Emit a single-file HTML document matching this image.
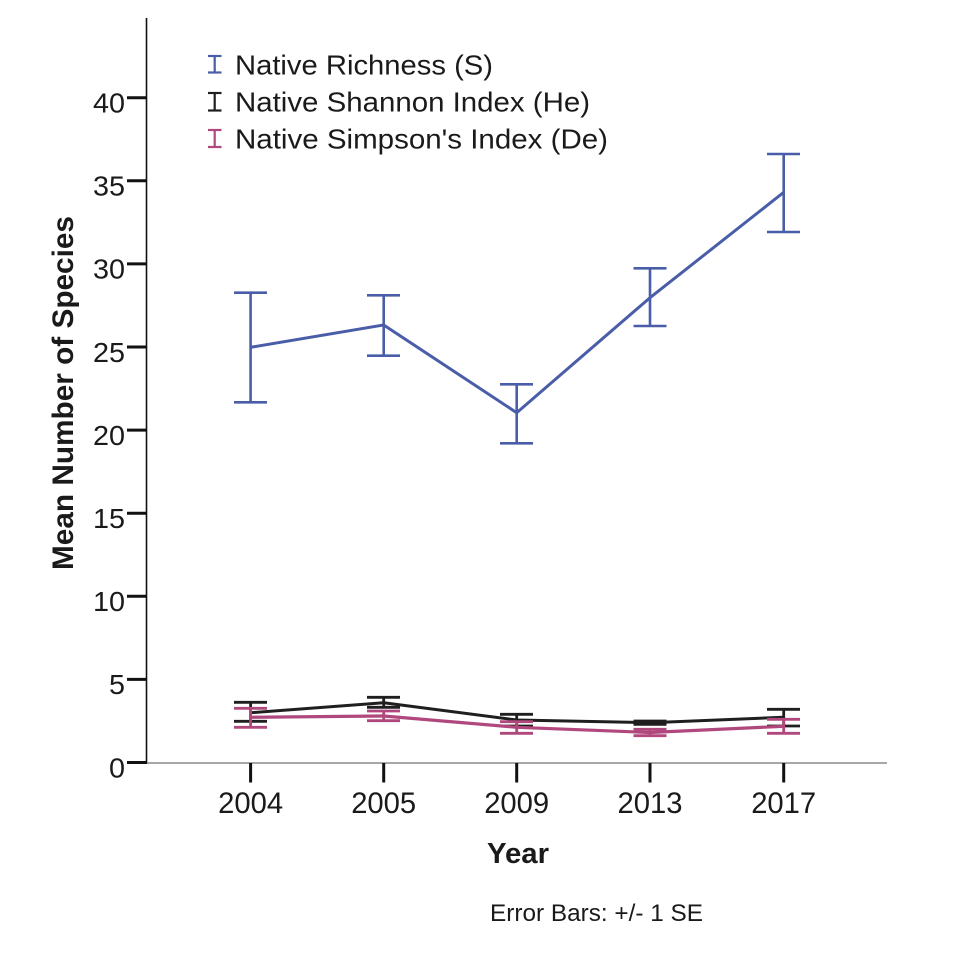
<!DOCTYPE html>
<html>
<head>
<meta charset="utf-8">
<style>
  html, body { margin:0; padding:0; background:#ffffff; }
  svg { display:block; }
  text { font-family: "Liberation Sans", Arial, sans-serif; fill:#1a1a1a; }
</style>
</head>
<body>
<svg width="960" height="956" viewBox="0 0 960 956" xmlns="http://www.w3.org/2000/svg">
  <rect x="0" y="0" width="960" height="956" fill="#ffffff"/>

  <!-- Axes -->
  <line x1="146.5" y1="18" x2="146.5" y2="763" stroke="#111" stroke-width="1.6"/>
  <line x1="146" y1="763" x2="887" y2="763" stroke="#8a8a8a" stroke-width="1.6"/>

  <!-- Y ticks -->
  <g stroke="#111" stroke-width="3">
    <line x1="127" y1="762.5" x2="147" y2="762.5"/>
    <line x1="127" y1="679.4" x2="147" y2="679.4"/>
    <line x1="127" y1="596.3" x2="147" y2="596.3"/>
    <line x1="127" y1="513.2" x2="147" y2="513.2"/>
    <line x1="127" y1="430.1" x2="147" y2="430.1"/>
    <line x1="127" y1="347.0" x2="147" y2="347.0"/>
    <line x1="127" y1="263.9" x2="147" y2="263.9"/>
    <line x1="127" y1="180.8" x2="147" y2="180.8"/>
    <line x1="127" y1="97.7" x2="147" y2="97.7"/>
  </g>
  <g font-size="27.5" text-anchor="end">
    <text x="125" y="777.5" textLength="16" lengthAdjust="spacingAndGlyphs">0</text>
    <text x="125" y="694.2" textLength="16" lengthAdjust="spacingAndGlyphs">5</text>
    <text x="125" y="611.1" textLength="32" lengthAdjust="spacingAndGlyphs">10</text>
    <text x="125" y="528.0" textLength="32" lengthAdjust="spacingAndGlyphs">15</text>
    <text x="125" y="444.9" textLength="32" lengthAdjust="spacingAndGlyphs">20</text>
    <text x="125" y="361.8" textLength="32" lengthAdjust="spacingAndGlyphs">25</text>
    <text x="125" y="278.7" textLength="32" lengthAdjust="spacingAndGlyphs">30</text>
    <text x="125" y="195.6" textLength="32" lengthAdjust="spacingAndGlyphs">35</text>
    <text x="125" y="112.5" textLength="32" lengthAdjust="spacingAndGlyphs">40</text>
  </g>

  <!-- X ticks -->
  <g stroke="#111" stroke-width="3">
    <line x1="250.6" y1="763" x2="250.6" y2="782.5"/>
    <line x1="383.7" y1="763" x2="383.7" y2="782.5"/>
    <line x1="516.7" y1="763" x2="516.7" y2="782.5"/>
    <line x1="650" y1="763" x2="650" y2="782.5"/>
    <line x1="783.7" y1="763" x2="783.7" y2="782.5"/>
  </g>
  <g font-size="29.5">
    <text x="218.1" y="813" textLength="65" lengthAdjust="spacingAndGlyphs">2004</text>
    <text x="351.2" y="813" textLength="65" lengthAdjust="spacingAndGlyphs">2005</text>
    <text x="484.2" y="813" textLength="65" lengthAdjust="spacingAndGlyphs">2009</text>
    <text x="617.5" y="813" textLength="65" lengthAdjust="spacingAndGlyphs">2013</text>
    <text x="751.2" y="813" textLength="65" lengthAdjust="spacingAndGlyphs">2017</text>
  </g>

  <!-- Axis titles -->
  <text x="487" y="863" font-size="28.5" font-weight="bold" textLength="62" lengthAdjust="spacingAndGlyphs">Year</text>
  <text transform="translate(73,570) rotate(-90)" x="0" y="0" font-size="29.5" font-weight="bold" textLength="354" lengthAdjust="spacingAndGlyphs">Mean Number of Species</text>
  <text x="490" y="921" font-size="24.5" textLength="213" lengthAdjust="spacingAndGlyphs">Error Bars: +/- 1 SE</text>

  <!-- Legend -->
  <g stroke-width="2.2" fill="none">
    <g stroke="#4a5da8">
      <line x1="214.7" y1="56" x2="214.7" y2="72.5"/>
      <line x1="208" y1="56" x2="221.5" y2="56"/>
      <line x1="208" y1="72.5" x2="221.5" y2="72.5"/>
    </g>
    <g stroke="#1f1f1f">
      <line x1="214.7" y1="93" x2="214.7" y2="110.5"/>
      <line x1="208" y1="93" x2="221.5" y2="93"/>
      <line x1="208" y1="110.5" x2="221.5" y2="110.5"/>
    </g>
    <g stroke="#b0487d">
      <line x1="214.7" y1="130" x2="214.7" y2="147"/>
      <line x1="208" y1="130" x2="221.5" y2="130"/>
      <line x1="208" y1="147" x2="221.5" y2="147"/>
    </g>
  </g>
  <g font-size="27.5">
    <text x="235" y="74.3" textLength="258" lengthAdjust="spacingAndGlyphs">Native Richness (S)</text>
    <text x="235" y="111.5" textLength="355" lengthAdjust="spacingAndGlyphs">Native Shannon Index (He)</text>
    <text x="235" y="148.3" textLength="373" lengthAdjust="spacingAndGlyphs">Native Simpson's Index (De)</text>
  </g>

  <!-- Blue series: Native Richness -->
  <g stroke="#4a5da8" fill="none">
    <g stroke-width="2.6">
      <line x1="250.6" y1="292.7" x2="250.6" y2="402.3"/>
      <line x1="234" y1="292.7" x2="267" y2="292.7"/>
      <line x1="234" y1="402.3" x2="267" y2="402.3"/>
      <line x1="383.7" y1="295.3" x2="383.7" y2="355.7"/>
      <line x1="367" y1="295.3" x2="400" y2="295.3"/>
      <line x1="367" y1="355.7" x2="400" y2="355.7"/>
      <line x1="516.7" y1="384.3" x2="516.7" y2="443.3"/>
      <line x1="500" y1="384.3" x2="533" y2="384.3"/>
      <line x1="500" y1="443.3" x2="533" y2="443.3"/>
      <line x1="650" y1="268.3" x2="650" y2="326"/>
      <line x1="633.5" y1="268.3" x2="666.5" y2="268.3"/>
      <line x1="633.5" y1="326" x2="666.5" y2="326"/>
      <line x1="783.7" y1="154" x2="783.7" y2="232"/>
      <line x1="767" y1="154" x2="800" y2="154"/>
      <line x1="767" y1="232" x2="800" y2="232"/>
    </g>
    <polyline stroke-width="3" stroke-linejoin="round" points="250.6,347.3 383.7,325 516.7,412.7 650,297.7 783.7,192.3"/>
  </g>

  <!-- Black series: Shannon -->
  <g stroke="#1f1f1f" fill="none">
    <g stroke-width="2.8">
      <line x1="250.6" y1="702.3" x2="250.6" y2="721.3"/>
      <line x1="234" y1="702.3" x2="267" y2="702.3"/>
      <line x1="234" y1="721.3" x2="267" y2="721.3"/>
      <line x1="383.7" y1="697.3" x2="383.7" y2="707.3"/>
      <line x1="367" y1="697.3" x2="400" y2="697.3"/>
      <line x1="367" y1="707.3" x2="400" y2="707.3"/>
      <line x1="516.7" y1="714.3" x2="516.7" y2="726"/>
      <line x1="500" y1="714.3" x2="533" y2="714.3"/>
      <line x1="500" y1="726" x2="533" y2="726"/>
      <line x1="650" y1="721" x2="650" y2="724.3"/>
      <line x1="633.5" y1="721" x2="666.5" y2="721"/>
      <line x1="633.5" y1="724.3" x2="666.5" y2="724.3"/>
      <line x1="783.7" y1="709.3" x2="783.7" y2="726"/>
      <line x1="767" y1="709.3" x2="800" y2="709.3"/>
      <line x1="767" y1="726" x2="800" y2="726"/>
    </g>
    <polyline stroke-width="3" stroke-linejoin="round" points="250.6,712.7 383.7,702.7 516.7,720 650,722.7 783.7,717.3"/>
  </g>

  <!-- Pink series: Simpson -->
  <g stroke="#b0487d" fill="none">
    <g stroke-width="2.8">
      <line x1="250.6" y1="708.3" x2="250.6" y2="727.3"/>
      <line x1="234" y1="708.3" x2="267" y2="708.3"/>
      <line x1="234" y1="727.3" x2="267" y2="727.3"/>
      <line x1="383.7" y1="711" x2="383.7" y2="720.7"/>
      <line x1="367" y1="711" x2="400" y2="711"/>
      <line x1="367" y1="720.7" x2="400" y2="720.7"/>
      <line x1="516.7" y1="721.7" x2="516.7" y2="733.3"/>
      <line x1="500" y1="721.7" x2="533" y2="721.7"/>
      <line x1="500" y1="733.3" x2="533" y2="733.3"/>
      <line x1="650" y1="729.3" x2="650" y2="735.7"/>
      <line x1="633.5" y1="729.3" x2="666.5" y2="729.3"/>
      <line x1="633.5" y1="735.7" x2="666.5" y2="735.7"/>
      <line x1="783.7" y1="719.3" x2="783.7" y2="733.3"/>
      <line x1="767" y1="719.3" x2="800" y2="719.3"/>
      <line x1="767" y1="733.3" x2="800" y2="733.3"/>
    </g>
    <polyline stroke-width="3.2" stroke-linejoin="round" points="250.6,717.3 383.7,716 516.7,727.3 650,732.5 783.7,726.3"/>
  </g>
</svg>
</body>
</html>
